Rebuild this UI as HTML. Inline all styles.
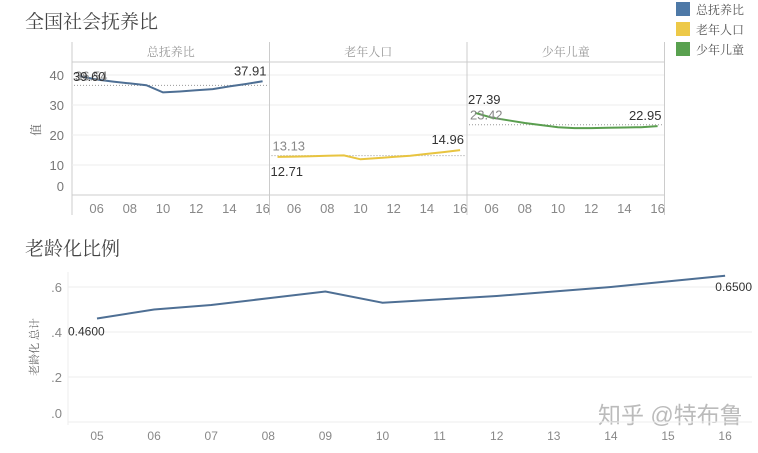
<!DOCTYPE html>
<html><head><meta charset="utf-8"><style>
body{margin:0;background:#fff;width:758px;height:448px;overflow:hidden;font-family:"Liberation Sans","Noto Sans CJK SC",sans-serif}
svg text{font-family:"Liberation Sans","Noto Sans CJK SC",sans-serif}
svg text.cj{font-family:"Liberation Serif","Noto Serif CJK SC",serif}
</style></head><body>
<svg id="svg" width="758" height="448">
<text class="cj" x="25" y="28" font-size="19" fill="#444">全国社会抚养比</text>
<text class="cj" x="25" y="255" font-size="19" fill="#444">老龄化比例</text>
<g>
<rect x="676" y="2" width="14" height="14" fill="#4e79a7"/>
<text class="cj" x="696" y="14" font-size="12" fill="#555">总抚养比</text>
<rect x="676" y="22" width="14" height="14" fill="#edc948"/>
<text class="cj" x="696" y="34" font-size="12" fill="#555">老年人口</text>
<rect x="676" y="42" width="14" height="14" fill="#59a14f"/>
<text class="cj" x="696" y="54" font-size="12" fill="#555">少年儿童</text>
</g>
<text x="598" y="423" font-size="23" fill="#bbb">知乎 @特布鲁</text>
<g id="topg"></g><g id="botg"></g>
</svg>
<script>
const years=[5,6,7,8,9,10,11,12,13,14,15,16];
const panelNames=["总抚养比","老年人口","少年儿童"];
const totalVals=[39.6,38.5,37.8,37.2,36.6,34.2,34.5,34.9,35.3,36.2,37.0,37.91];
const elderVals=[12.71,12.8,12.9,13.1,13.2,11.9,12.3,12.7,13.1,13.7,14.3,14.96];
const childVals=[27.39,25.8,24.9,24.0,23.3,22.6,22.3,22.3,22.4,22.5,22.6,22.95];
const avgVals=[36.54,13.13,23.42];
const yTicks=[0,10,20,30,40];
const xTickYears=[6,8,10,12,14,16];
const ratioVals=[0.46,0.50,0.52,0.55,0.58,0.53,0.545,0.56,0.58,0.60,0.625,0.65];
const ratioTicks=[0,0.2,0.4,0.6];
const NS="http://www.w3.org/2000/svg";
function mk(p,t,a,txt){const el=document.createElementNS(NS,t);for(const k in a)el.setAttribute(k,a[k]);if(txt!==undefined)el.textContent=txt;p.appendChild(el);return el;}
const topG=document.getElementById('topg'),botG=document.getElementById('botg');
const colors=["#4e6f94","#e8c440","#5a9e4f"];
const series=[totalVals,elderVals,childVals];
const px0=72,pw=197.5;
const yS=v=>195-3*v;
let e=mk(topG,'line',{x1:72,y1:42,x2:72,y2:215,stroke:'#ccc'});


e=mk(topG,'line',{x1:72,y1:62,x2:664,y2:62,stroke:'#ccc'});


e=mk(topG,'line',{x1:72,y1:195,x2:664,y2:195,stroke:'#ccc'});


yTicks.forEach(t=>{
 if(t>0){e=mk(topG,'line',{x1:72,y1:yS(t),x2:664,y2:yS(t),stroke:'#eee'});
 
 }
 e=mk(topG,'text',{x:64,y:t===0?191:yS(t)+5,'font-size':13,fill:'#777','text-anchor':'end'},String(t));
 
 
});
e=mk(topG,'text',{x:40,y:130,'font-size':12,fill:'#666',transform:'rotate(-90 40 130)','text-anchor':'middle','class':'cj'},'值');


series.forEach((vals,i)=>{
 const x0=px0+pw*i;
 const xS=y=>x0+8+(y-5)*16.6;
 e=mk(topG,'line',{x1:x0+pw,y1:42,x2:x0+pw,y2:215,stroke:'#ccc'});
 
 
 e=mk(topG,'text',{x:x0+pw/2,y:56,'font-size':12,fill:'#999','text-anchor':'middle','class':'cj'},panelNames[i]);
 
 
 xTickYears.forEach(y=>{e=mk(topG,'text',{x:xS(y),y:213,'font-size':13,fill:'#888','text-anchor':'middle'},String(y).padStart(2,'0'));
 
 });
 const avg=avgVals[i];
 e=mk(topG,'line',{x1:x0+2,y1:yS(avg),x2:x0+pw-2,y2:yS(avg),stroke:'#999','stroke-dasharray':'1,2'});
 
 
 e=mk(topG,'polyline',{points:vals.map((v,k)=>xS(years[k])+','+yS(v)).join(' '),fill:'none',stroke:colors[i],'stroke-width':2});
 
 
 const first=vals[0],last=vals[vals.length-1];
 e=mk(topG,'text',{x:x0+pw-3,y:yS(last)-6,'font-size':13,fill:'#333','text-anchor':'end'},last.toFixed(2));
 
 
 e=mk(topG,'text',{x:x0+3,y:yS(avg)-5,'font-size':13,fill:'#888'},avg.toFixed(2));
 
 
 const sy=i===0?yS(first)+5:(i===1?yS(first)+19:yS(first)-9);
 e=mk(topG,'text',{x:x0+1,y:sy,'font-size':13,fill:'#333'},first.toFixed(2));
 
 
});
const bY=v=>422-225*v, bX=y=>97+(y-5)*57.1;
e=mk(botG,'line',{x1:68,y1:272,x2:68,y2:425,stroke:'#eee'});


ratioTicks.forEach(t=>{
 e=mk(botG,'line',{x1:68,y1:bY(t),x2:752,y2:bY(t),stroke:'#eee'});
 
 
 e=mk(botG,'text',{x:62,y:t===0?418:bY(t)+5,'font-size':13,fill:'#888','text-anchor':'end'},'.'+Math.round(t*10));
 
 
});
e=mk(botG,'text',{x:38,y:347,'font-size':11,fill:'#666',transform:'rotate(-90 38 347)','text-anchor':'middle','class':'cj'},'老龄化 总计');


years.forEach(y=>{e=mk(botG,'text',{x:bX(y),y:440,'font-size':12,fill:'#888','text-anchor':'middle'},String(y).padStart(2,'0'));
 
 });
e=mk(botG,'polyline',{points:ratioVals.map((v,k)=>bX(years[k])+','+bY(v)).join(' '),fill:'none',stroke:'#4e6f94','stroke-width':2});


e=mk(botG,'text',{x:68,y:bY(ratioVals[0])+17,'font-size':12,fill:'#333'},ratioVals[0].toFixed(4));


const lr=ratioVals[ratioVals.length-1];
e=mk(botG,'text',{x:752,y:bY(lr)+15,'font-size':12,fill:'#333','text-anchor':'end'},lr.toFixed(4));


</script>
</body></html>
